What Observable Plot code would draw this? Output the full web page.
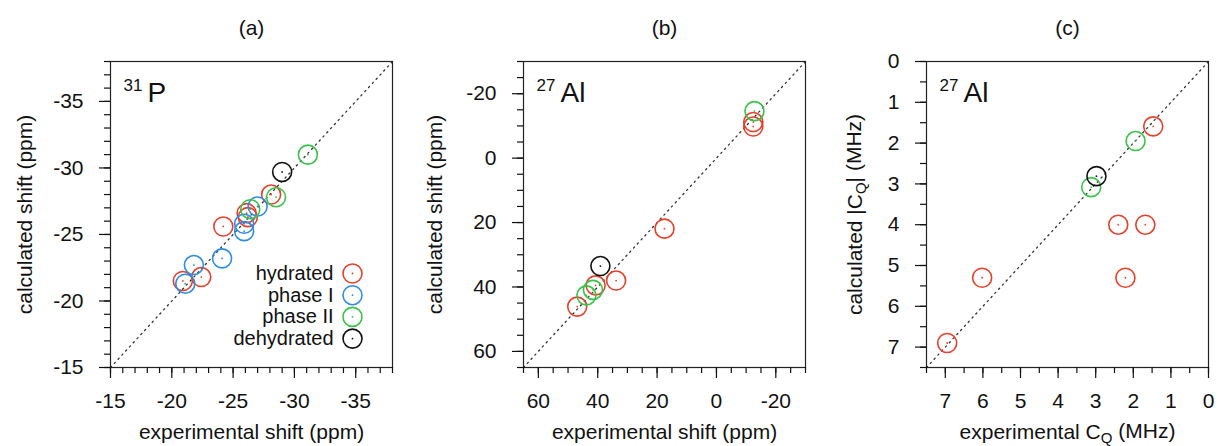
<!DOCTYPE html>
<html><head><meta charset="utf-8">
<script src="https://cdn.jsdelivr.net/npm/d3@7"></script>
<script src="https://cdn.jsdelivr.net/npm/@observablehq/plot@0.6"></script>
<style>
body{margin:0;background:#fff;}
#row{display:flex;width:1217px;height:446px;}
</style></head><body><div id="row"></div>
<script>
const phases = ["hydrated", "phase I", "phase II", "dehydrated"];
const phaseColors = ["#e4402b", "#2d8ce4", "#3bc24c", "#111111"];

// (a) 31P shifts (ppm)
const aPhase = ["hydrated","hydrated","hydrated","hydrated","hydrated","hydrated",
  "phase I","phase I","phase I","phase I","phase I","phase I",
  "phase II","phase II","phase II","dehydrated"];
const aExp  = [-20.9,-22.4,-24.2,-26.1,-26.2,-28.1, -21.1,-21.8,-24.1,-25.9,-25.9,-27.0, -26.4,-28.5,-31.1, -29.0];
const aCalc = [-21.5,-21.8,-25.6,-26.6,-26.3,-28.0, -21.3,-22.7,-23.2,-25.8,-25.25,-27.1, -26.9,-27.8,-31.0, -29.7];
const aXTicks = [-15, -20, -25, -30, -35];
const aYTicks = [-15, -20, -25, -30, -35];

// (b) 27Al shifts (ppm)
const bPhase = ["hydrated","hydrated","hydrated","hydrated","hydrated","hydrated",
  "phase II","phase II","phase II","dehydrated"];
const bExp  = [-12.4,-12.4,17.5,33.8,40.7,46.9, -12.8,41.6,43.8, 39.1];
const bCalc = [-11.2,-9.8,21.9,38.0,39.5,46.1, -14.6,40.9,42.6, 33.5];
const bXTicks = [60, 40, 20, 0, -20];
const bYTicks = [-20, 0, 20, 40, 60];

// (c) 27Al |CQ| (MHz)
const cPhase = ["hydrated","hydrated","hydrated","hydrated","hydrated","hydrated",
  "phase II","phase II","dehydrated"];
const cExp  = [1.47,2.4,1.68,2.21,6.02,6.95, 1.94,3.12, 2.98];
const cCalc = [1.59,4.0,4.0,5.3,5.3,6.9, 1.95,3.08, 2.81];
const cXTicks = [7, 6, 5, 4, 3, 2, 1, 0];
const cYTicks = [0, 1, 2, 3, 4, 5, 6, 7];

const FONT = "'Liberation Sans', Arial, Helvetica, sans-serif";

function panel(o) {
  const data = o.exp.map((e, i) => ({exp: e, calc: o.calc[i], phase: o.phase[i]}));
  const rng = (dom) => {
    const s = Math.sign(dom[1] - dom[0]) * o.minorStep;
    return d3.range(dom[0], dom[1] + s * 1e-6, s);
  };
  const xMinor = rng(o.xDomain);
  const yMinor = rng(o.yDomain);
  const marks = [
    Plot.line(o.xDomain, {x: d => d, y: d => d, stroke: "#333", strokeWidth: 1.3, strokeDasharray: "1.4,4.2"}),
    Plot.dot(data, {x: "exp", y: "calc", r: 9.5, stroke: "phase", strokeWidth: 1.6, fill: "none"}),
    Plot.dot(data, {x: "exp", y: "calc", r: 0.9, fill: "phase"}),
    Plot.frame({stroke: "#222", strokeWidth: 1.2}),
    Plot.axisX(o.xTicks, {tickSize: 11, tickPadding: 15, tickFormat: d => String(d), fontSize: 21, strokeWidth: 1.2, label: null}),
    Plot.axisX(xMinor, {tickSize: 6, text: null, strokeWidth: 1.2, label: null}),
    Plot.axisY(o.yTicks, {tickSize: 11, tickPadding: 16, tickFormat: d => String(d), fontSize: 21, strokeWidth: 1.2, label: null}),
    Plot.axisY(yMinor, {tickSize: 6, text: null, strokeWidth: 1.2, label: null}),
    Plot.text([o.title], {frameAnchor: "top", dy: -33, fontSize: 21, lineAnchor: "middle"}),
    Plot.text([o.xLabel], {frameAnchor: "bottom", dy: 65, fontSize: 21, lineAnchor: "middle", textAnchor: "middle"}),
    Plot.text([o.yLabel], {frameAnchor: "left", dx: -o.yLabelOffset, rotate: -90, fontSize: 21, lineAnchor: "middle", textAnchor: "middle"}),
    Plot.text([o.mass], {frameAnchor: "top-left", dx: 13, dy: 17, textAnchor: "start", lineAnchor: "top", fontSize: 17}),
    Plot.text([o.sym], {frameAnchor: "top-left", dx: 37, dy: 21, textAnchor: "start", lineAnchor: "top", fontSize: 28})
  ];
  if (o.legend) {
    phases.forEach((p, i) => {
      const dy = -94 + 21.7 * i;
      marks.push(Plot.text([p], {frameAnchor: "bottom-right", dx: -59, dy, textAnchor: "end", lineAnchor: "middle", fontSize: 20}));
      marks.push(Plot.dot([p], {frameAnchor: "bottom-right", dx: -40, dy, r: 9.5, stroke: phaseColors[i], strokeWidth: 1.6, fill: "none"}));
      marks.push(Plot.dot([p], {frameAnchor: "bottom-right", dx: -40, dy, r: 0.9, fill: phaseColors[i]}));
    });
  }
  const svg = Plot.plot({
    width: o.width, height: 446,
    marginTop: 61, marginBottom: 79, marginLeft: 110, marginRight: o.width - 110 - 282,
    style: {fontFamily: FONT, fontSize: "21px", color: "#111", background: "white", overflow: "visible"},
    x: {domain: o.xDomain, axis: null},
    y: {domain: o.yDomain, axis: null},
    color: {domain: phases, range: phaseColors},
    marks
  });
  // subscripts: "C_Q"
  d3.select(svg).selectAll("text").each(function() {
    const t = this.textContent;
    if (t.includes("_Q")) {
      const [pre, post] = t.split("_Q");
      const sel = d3.select(this);
      sel.text(null);
      sel.append("tspan").text(pre);
      sel.append("tspan").attr("dy", "0.25em").attr("font-size", "15px").text("Q");
      sel.append("tspan").attr("dy", "-0.25em").text(post);
    }
  });
  return svg;
}

const row = document.getElementById("row");
row.appendChild(panel({
  width: 413, title: "(a)", mass: "31", sym: "P",
  xDomain: [-15, -38], yDomain: [-15, -38], minorStep: 1,
  xTicks: aXTicks, yTicks: aYTicks,
  xLabel: "experimental shift (ppm)", yLabel: "calculated shift (ppm)", yLabelOffset: 85,
  phase: aPhase, exp: aExp, calc: aCalc, legend: true
}));
row.appendChild(panel({
  width: 403, title: "(b)", mass: "27", sym: "Al",
  xDomain: [65, -30], yDomain: [65, -30], minorStep: 5,
  xTicks: bXTicks, yTicks: bYTicks,
  xLabel: "experimental shift (ppm)", yLabel: "calculated shift (ppm)", yLabelOffset: 88,
  phase: bPhase, exp: bExp, calc: bCalc, legend: false
}));
row.appendChild(panel({
  width: 401, title: "(c)", mass: "27", sym: "Al",
  xDomain: [7.5, 0], yDomain: [7.5, 0], minorStep: 0.5,
  xTicks: cXTicks, yTicks: cYTicks,
  xLabel: "experimental C_Q (MHz)", yLabel: "calculated |C_Q| (MHz)", yLabelOffset: 71,
  phase: cPhase, exp: cExp, calc: cCalc, legend: false
}));
</script>
</body></html>
